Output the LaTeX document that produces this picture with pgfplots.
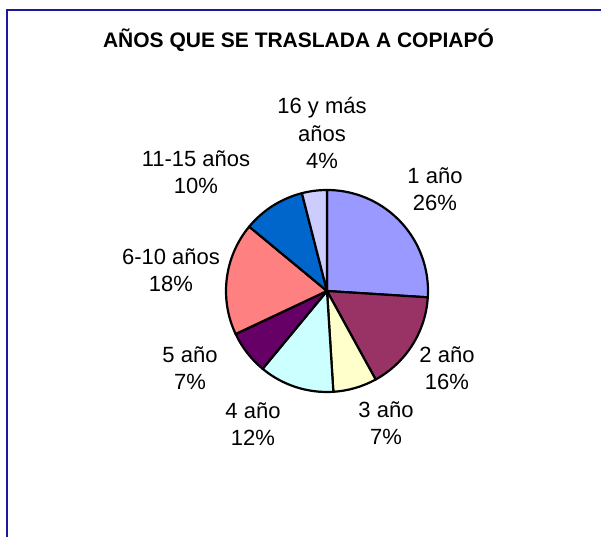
\documentclass[border=0pt]{standalone}
\usepackage{pgfplots}
\pgfplotsset{compat=1.18}
\usepackage{fontspec}
\setmainfont{Liberation Sans}
\definecolor{c1}{HTML}{9999FF}
\definecolor{c2}{HTML}{993366}
\definecolor{c3}{HTML}{FFFFCC}
\definecolor{c4}{HTML}{CCFFFF}
\definecolor{c5}{HTML}{660066}
\definecolor{c6}{HTML}{FF8080}
\definecolor{c7}{HTML}{0066CC}
\definecolor{c8}{HTML}{CCCCFF}
\definecolor{frameblue}{HTML}{1A1A9A}
% slice: start percentage, value (percentage), colour
\newcommand\slice[3]{%
  \filldraw[fill=#3,draw=black,line width=2.2bp,line join=round]
    (axis cs:327,291) -- ++({90-3.6*#1}:101bp)
    arc[start angle={90-3.6*#1}, end angle={90-3.6*(#1+#2)}, radius=101bp] -- cycle;}
\newcommand\plabel[3]{%
  \node[inner sep=0pt, align=center, font=\fontsize{22bp}{27.5bp}\selectfont]
    at (axis cs:#1,#2) {#3};}
\begin{document}
\begin{tikzpicture}
\path[use as bounding box] (0,0) rectangle (601bp,537bp);
\begin{axis}[at={(0,0)}, anchor=south west, scale only axis,
  width=601bp, height=537bp, xmin=0, xmax=601, ymin=0, ymax=537,
  y dir=reverse, hide axis, clip=false]
\draw[line width=2bp, color=frameblue] (axis cs:7,545) -- (axis cs:7,10) -- (axis cs:610,10);
\node[inner sep=0pt, font=\bfseries\fontsize{21bp}{25bp}\selectfont] at (axis cs:298.5,40) {AÑOS QUE SE TRASLADA A COPIAPÓ};
\slice{0}{26}{c1}
\slice{26}{16}{c2}
\slice{42}{7}{c3}
\slice{49}{12}{c4}
\slice{61}{7}{c5}
\slice{68}{18}{c6}
\slice{86}{10}{c7}
\slice{96}{4}{c8}
\plabel{435}{189}{1 año\\26\%}
\plabel{447}{368}{2 año\\16\%}
\plabel{386}{423}{3 año\\7\%}
\plabel{253}{424}{4 año\\12\%}
\plabel{190}{368}{5 año\\7\%}
\plabel{171}{270}{6-10 años\\18\%}
\plabel{196}{172}{11-15 años\\10\%}
\plabel{322}{133}{16 y más\\años\\4\%}
\end{axis}
\end{tikzpicture}
\end{document}
